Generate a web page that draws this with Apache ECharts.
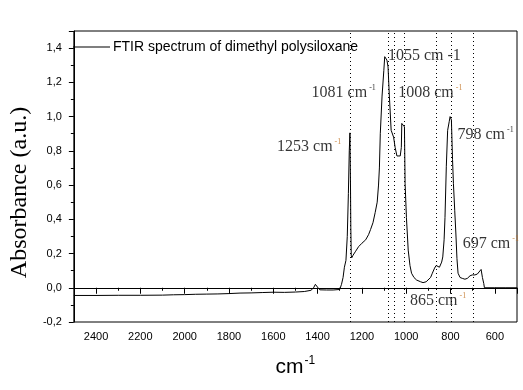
<!DOCTYPE html>
<html>
<head>
<meta charset="utf-8">
<script src="https://cdn.jsdelivr.net/npm/echarts@6/dist/echarts.min.js"></script>
<style>html,body{margin:0;padding:0;background:#fff}#c{width:523px;height:390px}</style>
</head>
<body>
<div id="c"></div>
<script>
// Spectrum: wavenumber (cm-1) and absorbance
var wavenumbers = [2500,2400,2300,2200,2100,2050,2000,1950,1900,1850,1800,1750,1700,1650,1600,1550,1500,1460,1430,1418,1410,1405,1398,1390,1360,1330,1300,1292,1285,1279,1272,1266,1261,1257,1254,1253,1251.5,1250,1248,1246,1240,1230,1215,1200,1183,1170,1161,1150,1140,1131,1125,1121,1117,1109,1101,1097,1092,1087,1082,1076,1068,1057,1050,1042,1035,1027,1022,1020,1014,1008,1005,999,991,983,976,965,953,935,924,910,901,890,882,872,865,858,850,840,835,829,825,819,813,806,802,796,791,787,781,776,771,766,757,747,735,724,712,702,690,679,670,662,656,650,647,600,550,500];
var absorbance = [-0.045,-0.045,-0.044,-0.044,-0.043,-0.041,-0.040,-0.038,-0.037,-0.036,-0.034,-0.031,-0.030,-0.028,-0.026,-0.027,-0.025,-0.022,-0.015,0.000,0.020,0.015,0.000,-0.012,-0.013,-0.013,-0.010,0.020,0.060,0.120,0.160,0.300,0.550,0.800,0.905,0.900,0.600,0.350,0.190,0.175,0.190,0.210,0.240,0.260,0.280,0.310,0.340,0.380,0.440,0.500,0.600,0.700,0.900,1.120,1.270,1.350,1.355,1.330,1.290,1.120,0.920,0.880,0.820,0.770,0.760,0.770,0.820,0.960,0.960,0.940,0.610,0.410,0.220,0.130,0.085,0.060,0.045,0.035,0.030,0.035,0.045,0.060,0.085,0.115,0.130,0.130,0.120,0.150,0.180,0.280,0.410,0.710,0.920,0.970,1.000,0.980,0.750,0.610,0.450,0.320,0.170,0.085,0.060,0.055,0.050,0.055,0.070,0.075,0.075,0.080,0.090,0.107,0.060,0.025,0.000,0.000,0.000,0.000];

// Marked peaks (dotted lines)
var peakLines = [1253, 1081, 1055, 1008, 865, 798, 697];

// Annotation texts and their anchor positions (data coordinates)
var annoNums = ['1253', '1081', '1055', '1008', '798', '697', '865'];
var annoSup = ['-1', '-1', '', '-1', '-1', '-1', '-1'];
var annoPlain = ['', '', ' cm -1', '', '', '', ''];
var annoX = [1438, 1282, 918, 891, 642, 618, 856];
var annoY = [0.825, 1.14, 1.355, 1.14, 0.893, 0.255, -0.076];
var annoSupColor = ['#c07020', '#000', '#000', '#c07020', '#000', '#c07020', '#c07020'];

var seriesName = 'FTIR spectrum of dimethyl polysiloxane';
var yTickLabels = ['-0,2','0,0','0,2','0,4','0,6','0,8','1,0','1,2','1,4'];

var lineData = wavenumbers.map(function (w, i) { return [w, absorbance[i]]; });
var annoData = annoX.map(function (x, i) {
  return { value: [x, annoY[i]], num: annoNums[i], sup: annoSup[i], plain: annoPlain[i], supColor: annoSupColor[i] };
});

var chart = echarts.init(document.getElementById('c'), null, { renderer: 'canvas' });
var serif = '"Liberation Serif","Times New Roman",serif';
var sans = '"Liberation Sans",Arial,sans-serif';

var richAnno = {
  n: { fontFamily: serif, fontSize: 16, color: '#000', lineHeight: 18 },
  s: { fontFamily: serif, fontSize: 8, color: '#c07020', verticalAlign: 'top', lineHeight: 18, padding: [0, 0, 0, 2] },
  k: { fontFamily: serif, fontSize: 8, color: '#000', verticalAlign: 'top', lineHeight: 18, padding: [0, 0, 0, 2] }
};

chart.setOption({
  animation: false,
  backgroundColor: '#fff',
  grid: { left: 67, right: 6, top: 31, bottom: 68, show: true, borderColor: '#000', borderWidth: 1, backgroundColor: 'transparent' },
  legend: {
    show: true, left: 68, top: 35, itemWidth: 37, itemHeight: 10, itemGap: 4,
    data: [{ name: seriesName, icon: 'path://M0,0L37,0L37,1L0,1Z' }],
    textStyle: { fontFamily: sans, fontSize: 14, color: '#000', padding: [0, 0, 0, -2] }
  },
  xAxis: {
    type: 'value', inverse: true, min: 500, max: 2500, minInterval: 200, maxInterval: 200, splitNumber: 10,
    axisLine: { show: true, lineStyle: { color: '#000', width: 1 } },
    axisTick: { show: true, inside: false, length: 6, lineStyle: { color: '#000' } },
    minorTick: { show: true, splitNumber: 2, length: 3, lineStyle: { color: '#000' } },
    splitLine: { show: false },
    axisLabel: {
      showMinLabel: false, showMaxLabel: false, margin: 9, fontFamily: sans, fontSize: 11, color: '#000',
      formatter: function (v) { return String(Math.round(v)); }
    },
    name: '{a|cm}{b|-1}', nameLocation: 'middle', nameGap: 33,
    nameTextStyle: {
      rich: {
        a: { fontFamily: sans, fontSize: 21, color: '#000', lineHeight: 24 },
        b: { fontFamily: sans, fontSize: 12, color: '#000', verticalAlign: 'top', lineHeight: 24, padding: [0, 0, 0, 1] }
      }
    }
  },
  yAxis: {
    type: 'value', min: -0.2, max: 1.5, interval: 0.2,
    axisLine: { show: true, lineStyle: { color: '#000', width: 1 } },
    axisTick: { show: true, inside: false, length: 5, lineStyle: { color: '#000' } },
    minorTick: { show: true, splitNumber: 2, length: 3, lineStyle: { color: '#000' } },
    splitLine: { show: false },
    axisLabel: {
      showMaxLabel: false, margin: 12, fontFamily: sans, fontSize: 11, color: '#000',
      formatter: function (v) {
        var k = Math.round((v + 0.2) / 0.2);
        return yTickLabels[k] !== undefined && Math.abs(v - (-0.2 + k * 0.2)) < 1e-6 ? yTickLabels[k] : '';
      }
    },
    name: 'Absorbance (a.u.)', nameLocation: 'middle', nameGap: 37,
    nameTextStyle: { fontFamily: serif, fontSize: 24, color: '#000', padding: [0, 32, 0, 0] }
  },
  series: [
    {
      name: seriesName, type: 'line', data: lineData, symbol: 'none', showSymbol: false,
      lineStyle: { color: '#000', width: 1 }, itemStyle: { color: '#000' },
      markLine: {
        silent: true, symbol: ['none', 'none'], label: { show: false },
        lineStyle: { color: '#000', width: 1, type: [1, 3] },
        data: peakLines.map(function (p) { return { xAxis: p }; })
      },
      z: 3
    },
    {
      name: 'annotations', type: 'scatter', data: annoData, symbolSize: 1, itemStyle: { color: 'rgba(0,0,0,0)' },
      silent: true, z: 5,
      label: {
        show: true, position: 'inside', color: '#000',
        formatter: function (p) {
          var d = p.data;
          if (d.plain) return '{n|' + d.num + d.plain + '}';
          return '{n|' + d.num + ' cm}' + (d.supColor === '#000' ? '{k|' : '{s|') + d.sup + '}';
        },
        rich: richAnno
      }
    }
  ]
});
</script>
</body>
</html>
